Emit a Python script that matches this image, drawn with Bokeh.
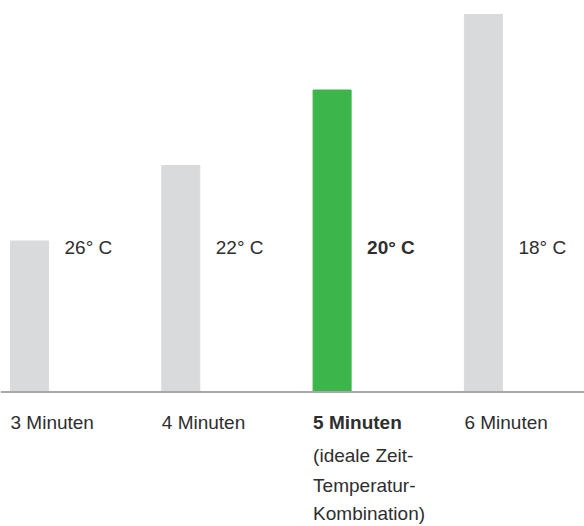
from bokeh.plotting import figure
from bokeh.models import Span, ColumnDataSource
from bokeh.core.properties import value
from bokeh.embed import file_html
from bokeh.resources import INLINE

# data
categories = ["3 Minuten", "4 Minuten", "5 Minuten", "6 Minuten"]
bar_values = [2, 3, 4, 5]
temp_labels = ["26° C", "22° C", "20° C", "18° C"]
highlight_index = 2
highlight_note = ["(ideale Zeit-", "Temperatur-", "Kombination)"]

GRAY = "#d9dadb"
GREEN = "#3cb54a"
TEXT = "#2e2e2e"
FONT = "Liberation Sans"
FS = "19px"

idx = list(range(len(categories)))
colors = [GREEN if i == highlight_index else GRAY for i in idx]

px_per_x = 151.3
px_per_y = 75.5
W, H = 584, 526
base_px = 391.5
x0 = -29 / px_per_x
y_end = base_px / px_per_y
y_start = -(H - base_px) / px_per_y

p = figure(width=W, height=H, output_backend="svg", toolbar_location=None,
           x_range=(x0, x0 + W / px_per_x), y_range=(y_start, y_end),
           min_border=0, outline_line_color=None, background_fill_color="white",
           border_fill_color="white")
p.xaxis.visible = False
p.yaxis.visible = False
p.xgrid.visible = False
p.ygrid.visible = False

src = ColumnDataSource(dict(x=idx, top=bar_values, color=colors))
p.vbar(x="x", top="top", bottom=0, width=38 / px_per_x, color="color", source=src)

p.add_layout(Span(location=0, dimension="width", line_color="#a8a8a8", line_width=2))

def ypx(page_y):
    return (base_px - page_y) / px_per_y

normal = [i for i in idx if i != highlight_index]
common = dict(text_align="left", text_baseline="middle", text_font=value(FONT),
              text_font_size=FS, text_color=TEXT)

temp_y = ypx(247)
p.text(x=[idx[i] for i in normal], y=[temp_y] * len(normal), text=[temp_labels[i] for i in normal],
       x_offset=35, **common)
p.text(x=[idx[highlight_index]], y=[temp_y], text=[temp_labels[highlight_index]],
       x_offset=35, text_font_style="bold", **common)

cat_y = ypx(422)
p.text(x=[idx[i] for i in normal], y=[cat_y] * len(normal), text=[categories[i] for i in normal],
       x_offset=-19, **common)
p.text(x=[idx[highlight_index]], y=[cat_y], text=[categories[highlight_index]],
       x_offset=-19, text_font_style="bold", **common)

note_ys = [ypx(v) for v in (455, 485, 513)]
p.text(x=[idx[highlight_index]] * len(highlight_note), y=note_ys, text=highlight_note,
       x_offset=-19, **common)

open("out.html", "w").write(file_html(p, INLINE))
